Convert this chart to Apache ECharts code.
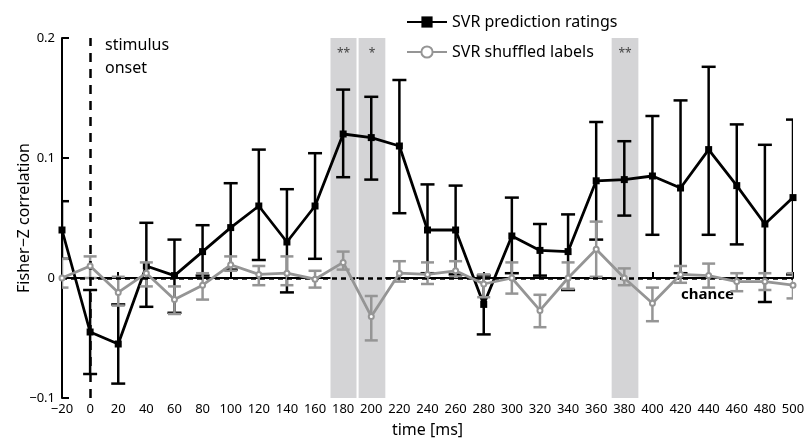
<!DOCTYPE html>
<html>
<head>
<meta charset="utf-8">
<script src="https://cdn.jsdelivr.net/npm/echarts@6/dist/echarts.min.js"></script>
<style>
  html, body { margin: 0; padding: 0; background: #fff; }
  #chart { width: 804px; height: 439px; }
</style>
</head>
<body>
<div id="chart"></div>
<script>
// time points in ms
const times = [-20, 0, 20, 40, 60, 80, 100, 120, 140, 160, 180, 200, 220, 240, 260, 280, 300, 320, 340, 360, 380, 400, 420, 440, 460, 480, 500];

// SVR prediction ratings (mean, lower, upper)
const svrMean = [0.040, -0.045, -0.055, 0.010, 0.002, 0.022, 0.042, 0.060, 0.030, 0.060, 0.120, 0.117, 0.110, 0.040, 0.040, -0.022, 0.035, 0.023, 0.022, 0.081, 0.082, 0.085, 0.075, 0.107, 0.077, 0.045, 0.067];
const svrLow = [0.016, -0.080, -0.088, -0.024, -0.029, 0.002, 0.007, 0.015, -0.012, 0.016, 0.084, 0.082, 0.054, 0.004, 0.003, -0.047, 0.004, 0.002, -0.010, 0.032, 0.052, 0.036, 0.004, 0.036, 0.028, -0.020, 0.003];
const svrHigh = [0.064, -0.010, -0.022, 0.046, 0.032, 0.044, 0.079, 0.107, 0.074, 0.104, 0.157, 0.151, 0.165, 0.078, 0.077, 0.002, 0.067, 0.045, 0.053, 0.130, 0.114, 0.135, 0.148, 0.176, 0.128, 0.111, 0.132];

// SVR shuffled labels (mean, lower, upper)
const shufMean = [0.000, 0.010, -0.012, 0.004, -0.018, -0.006, 0.011, 0.003, 0.004, -0.001, 0.013, -0.032, 0.004, 0.003, 0.006, -0.005, 0.000, -0.027, 0.000, 0.024, 0.000, -0.021, 0.003, 0.002, -0.003, -0.003, -0.006];
const shufLow = [-0.008, 0.000, -0.023, -0.007, -0.030, -0.018, 0.006, -0.006, -0.006, -0.008, 0.007, -0.052, -0.003, -0.005, 0.001, -0.016, -0.013, -0.041, -0.009, 0.001, -0.006, -0.036, -0.004, -0.008, -0.011, -0.010, -0.017];
const shufHigh = [0.016, 0.018, 0.001, 0.013, -0.007, 0.004, 0.018, 0.010, 0.018, 0.006, 0.022, -0.015, 0.014, 0.013, 0.014, 0.003, 0.013, -0.014, 0.013, 0.047, 0.008, -0.008, 0.010, 0.012, 0.004, 0.004, 0.004];

// significant windows [start, end, stars]
const sigWindows = [[171, 189.5, '**'], [191, 210, '*'], [371, 390, '**']];

const FONT = 'Noto Sans';
const BLACK = '#000';
const GRAY = '#959595';

function pairs(ys) {
  return times.map((t, i) => [t, ys[i]]);
}
function errData(lo, hi) {
  return times.map((t, i) => [t, lo[i], hi[i]]);
}
function minus(s) {
  return String(s).replace('-', '\u2212');
}
function errorBars(color, capW, lw) {
  return function (params, api) {
    const x = api.value(0);
    const a = api.coord([x, api.value(1)]);
    const b = api.coord([x, api.value(2)]);
    const st = { stroke: color, lineWidth: lw };
    return {
      type: 'group',
      children: [
        { type: 'line', shape: { x1: a[0], y1: a[1], x2: b[0], y2: b[1] }, style: st },
        { type: 'line', shape: { x1: a[0] - capW / 2, y1: a[1], x2: a[0] + capW / 2, y2: a[1] }, style: st },
        { type: 'line', shape: { x1: b[0] - capW / 2, y1: b[1], x2: b[0] + capW / 2, y2: b[1] }, style: st }
      ]
    };
  };
}

var myChart = echarts.init(document.getElementById('chart'));
let option = {
  animation: false,
  textStyle: { fontFamily: FONT },
  grid: { left: 62, right: 11, top: 38, bottom: 41, outerBoundsMode: 'none', containLabel: false },
  legend: {
    orient: 'vertical',
    left: 401,
    top: 9,
    itemWidth: 40,
    itemHeight: 14,
    itemGap: 14,
    textStyle: { fontSize: 16, color: '#000', fontFamily: FONT },
    data: ['SVR prediction ratings', 'SVR shuffled labels']
  },
  xAxis: {
    type: 'value',
    min: -20,
    max: 500,
    interval: 20,
    name: 'time [ms]',
    nameLocation: 'middle',
    nameGap: 24,
    nameMoveOverlap: false,
    nameTextStyle: { fontSize: 16, color: '#000' },
    axisLine: { lineStyle: { color: BLACK, width: 2 } },
    axisTick: { inside: true, length: 6, lineStyle: { color: BLACK, width: 2 } },
    axisLabel: { fontSize: 13, color: '#000', margin: 5, formatter: v => minus(v) },
    splitLine: { show: false }
  },
  yAxis: {
    type: 'value',
    min: -0.1,
    max: 0.2,
    interval: 0.1,
    name: 'Fisher\u2212Z correlation',
    nameLocation: 'middle',
    nameGap: 30,
    nameMoveOverlap: false,
    nameTextStyle: { fontSize: 16, color: '#000' },
    axisLine: { show: true, onZero: false, lineStyle: { color: BLACK, width: 2 } },
    axisTick: { show: true, inside: true, length: 7, lineStyle: { color: BLACK, width: 2 } },
    axisLabel: {
      fontSize: 13, color: '#000', margin: 7,
      formatter: v => minus(Math.round(v * 10) / 10)
    },
    splitLine: { show: false }
  },
  graphic: [
    { type: 'text', left: 105, top: 34, style: { text: 'stimulus\nonset', fontSize: 16, lineHeight: 23, fill: '#000', fontFamily: FONT } },
    { type: 'text', left: 681, top: 287, style: { text: 'chance', fontSize: 15, fontWeight: 'bold', fill: '#000', fontFamily: FONT } }
  ],
  series: [
    {
      // significance bands and reference lines
      type: 'line',
      name: 'bands',
      data: [],
      z: 0,
      markArea: {
        silent: true,
        itemStyle: { color: '#d4d4d6' },
        label: { show: true, position: 'insideTop', distance: 10, color: '#444', fontSize: 12 },
        data: sigWindows.map(w => [{ xAxis: w[0], name: w[2] }, { xAxis: w[1] }])
      },
      markLine: {
        silent: true,
        symbol: 'none',
        label: { show: false },
        data: [
          { yAxis: 0, lineStyle: { color: BLACK, width: 2.5, type: [5, 4] } },
          { xAxis: 0, lineStyle: { color: BLACK, width: 2.5, type: [9, 7] } }
        ]
      }
    },
    {
      type: 'custom',
      name: 'svrErr',
      renderItem: errorBars(BLACK, 14, 2.5),
      data: errData(svrLow, svrHigh),
      encode: { x: 0, y: [1, 2] },
      clip: true,
      z: 2
    },
    {
      type: 'line',
      name: 'SVR prediction ratings',
      data: pairs(svrMean),
      symbol: 'rect',
      symbolSize: 7,
      lineStyle: { color: BLACK, width: 2.8 },
      itemStyle: { color: BLACK },
      z: 3
    },
    {
      type: 'custom',
      name: 'shufErr',
      renderItem: errorBars(GRAY, 13, 2.5),
      data: errData(shufLow, shufHigh),
      encode: { x: 0, y: [1, 2] },
      clip: true,
      z: 4
    },
    {
      type: 'line',
      name: 'SVR shuffled labels',
      data: pairs(shufMean),
      symbol: 'emptyCircle',
      symbolSize: 5,
      lineStyle: { color: GRAY, width: 2.8 },
      itemStyle: { color: GRAY, borderWidth: 2.5 },
      z: 5
    }
  ]
};
option && myChart.setOption(option);
</script>
</body>
</html>
